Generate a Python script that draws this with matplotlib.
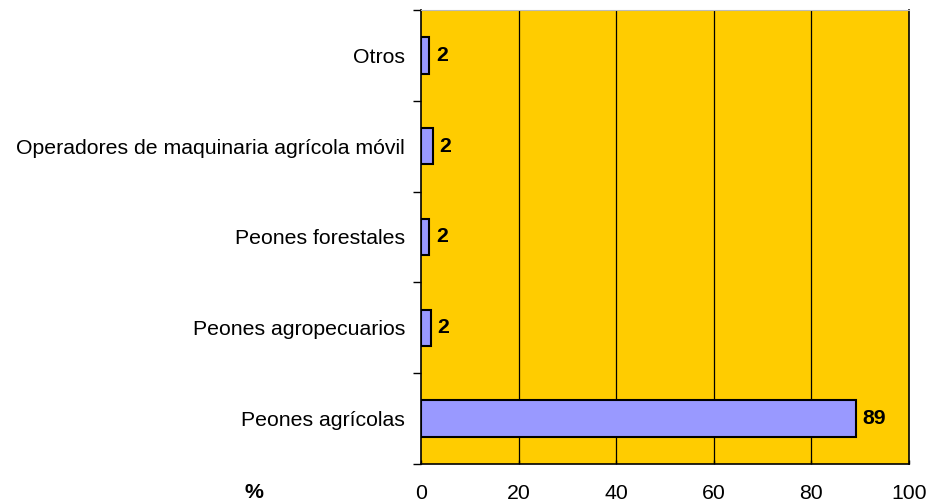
import matplotlib
matplotlib.use("Agg")
import matplotlib.pyplot as plt

categories = ["Peones agrícolas", "Peones agropecuarios", "Peones forestales",
              "Operadores de maquinaria agrícola móvil", "Otros"]
values = [89.1, 2.0, 1.6, 2.4, 1.7]
value_labels = ["89", "2", "2", "2", "2"]
x_ticks = [0, 20, 40, 60, 80, 100]

plt.rcParams['font.family'] = ['Liberation Sans', 'DejaVu Sans']
fs = 15.3

fig = plt.figure(figsize=(9.32, 5.04), dpi=100)
ax = fig.add_axes([421/932, 1-464/504, (909-421)/932, (464-10)/504])
ax.set_facecolor('#FFCC00')

ypos = list(range(len(categories)))
ax.barh(ypos, values, height=0.4, color='#9999FF', edgecolor='black', linewidth=1.5, zorder=3)
for y, v, lab in zip(ypos, values, value_labels):
    ax.annotate(lab, (v, y), xytext=(5, 0), textcoords='offset points',
                va='center', ha='left', fontsize=fs, fontweight='bold', zorder=4)

ax.set_xlim(0, 100)
ax.set_ylim(-0.5, len(categories) - 0.5)
ax.set_xticks(x_ticks)
ax.set_xticklabels([str(t) for t in x_ticks], fontsize=fs)
ax.tick_params(axis='x', direction='in', length=3, pad=14.5, width=1)
for t in x_ticks[1:-1]:
    ax.axvline(t, color='black', linewidth=0.9, zorder=1)

ax.set_yticks([i - 0.5 for i in range(len(categories) + 1)])
ax.set_yticklabels([])
ax.tick_params(axis='y', which='major', direction='out', length=6, width=1)
ax.set_yticks(ypos, minor=True)
ax.set_yticklabels(categories, minor=True, fontsize=fs)
ax.tick_params(axis='y', which='minor', length=0, pad=11.5)

for s in ['left', 'bottom', 'right']:
    ax.spines[s].set_linewidth(1.2)
    ax.spines[s].set_color('black')
ax.spines['top'].set_color('#bbbbbb')
ax.spines['top'].set_linewidth(0.8)

fig.text(254/932, 1-493/504, "%", fontsize=fs, fontweight='bold', ha='center', va='center')

fig.savefig("out.png", dpi=100)
